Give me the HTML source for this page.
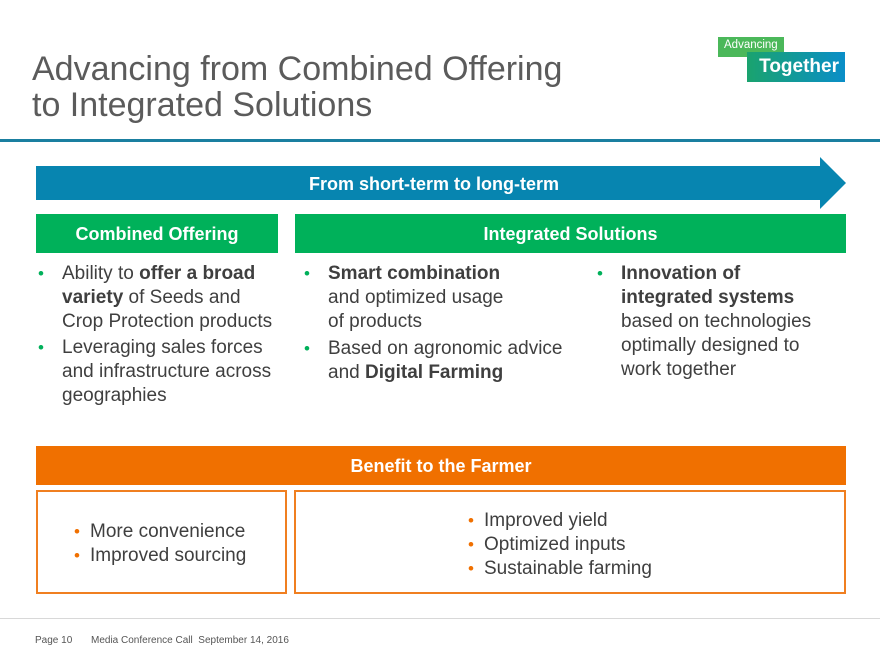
<!DOCTYPE html>
<html><head><meta charset="utf-8"><style>
body{margin:0;width:880px;height:662px;position:relative;background:#fff;font-family:"Liberation Sans",sans-serif;overflow:hidden}
.a{position:absolute}
h1{position:absolute;left:32px;top:51px;margin:0;font-weight:normal;font-size:34px;line-height:36px;color:#5b5b5b}
.bar{position:absolute;color:#fff;font-weight:bold;font-size:18px;text-align:center}
.t{position:absolute;font-size:19px;line-height:24px;color:#3f3f3f}
.t ul{margin:0;padding:0;list-style:none}
.t li{position:relative;padding-left:26px}
.t li:before{content:"•";position:absolute;left:2px;font-size:17px;color:#00b05a}
.o li:before{color:#f07000}
.o li{padding-left:18px}
</style></head><body>
<h1>Advancing from Combined Offering<br>to Integrated Solutions</h1>
<div class="a" style="left:718px;top:37px;width:66px;height:20px;background:#4bb85a;color:#fff;font-size:11.5px;line-height:16px;padding-left:6px;box-sizing:border-box">Advancing</div>
<div class="a" style="left:747px;top:52px;width:98px;height:30px;background:linear-gradient(90deg,#1aa36e,#0a8ec8);color:#fff;font-size:19px;font-weight:bold;line-height:30px;text-align:right;padding-right:6px;box-sizing:border-box">Together</div>
<div class="a" style="left:0;top:139px;width:880px;height:3px;background:#1a7fa0"></div>
<svg class="a" style="left:0;top:0" width="880" height="662"><polygon points="36,166 820,166 820,157 846,183 820,209 820,200 36,200" fill="#0785b0"/></svg>
<div class="bar" style="left:36px;top:166px;width:796px;height:34px;line-height:36px">From short-term to long-term</div>
<div class="bar" style="left:36px;top:214px;width:242px;height:39px;line-height:41px;background:#00b15a">Combined Offering</div>
<div class="bar" style="left:295px;top:214px;width:551px;height:39px;line-height:41px;background:#00b15a">Integrated Solutions</div>
<div class="t" style="left:36px;top:262px;width:248px"><ul><li>Ability to <b>offer a broad variety</b> of Seeds and Crop Protection products</li><li style="margin-top:2px">Leveraging sales forces and infrastructure across geographies</li></ul></div>
<div class="t" style="left:302px;top:262px;width:280px"><ul><li><b>Smart combination</b><br>and optimized usage<br>of products</li><li style="margin-top:3px">Based on agronomic advice and <b>Digital Farming</b></li></ul></div>
<div class="t" style="left:595px;top:262px;width:230px"><ul><li><b>Innovation of integrated systems</b> based on technologies optimally designed to work together</li></ul></div>
<div class="bar" style="left:36px;top:446px;width:810px;height:39px;line-height:41px;background:#f07000">Benefit to the Farmer</div>
<div class="a" style="left:36px;top:490px;width:251px;height:104px;border:2px solid #f07f20;box-sizing:border-box"></div>
<div class="a" style="left:294px;top:490px;width:552px;height:104px;border:2px solid #f07f20;box-sizing:border-box"></div>
<div class="t o" style="left:72px;top:520px"><ul><li>More convenience</li><li>Improved sourcing</li></ul></div>
<div class="t o" style="left:466px;top:509px"><ul><li>Improved yield</li><li>Optimized inputs</li><li>Sustainable farming</li></ul></div>
<div class="a" style="left:0;top:618px;width:880px;height:1px;background:#d8d8d8"></div>
<div class="a" style="left:35px;top:635px;font-size:10px;color:#555">Page 10</div>
<div class="a" style="left:91px;top:635px;font-size:10px;color:#555">Media Conference Call&nbsp; September 14, 2016</div>
</body></html>
